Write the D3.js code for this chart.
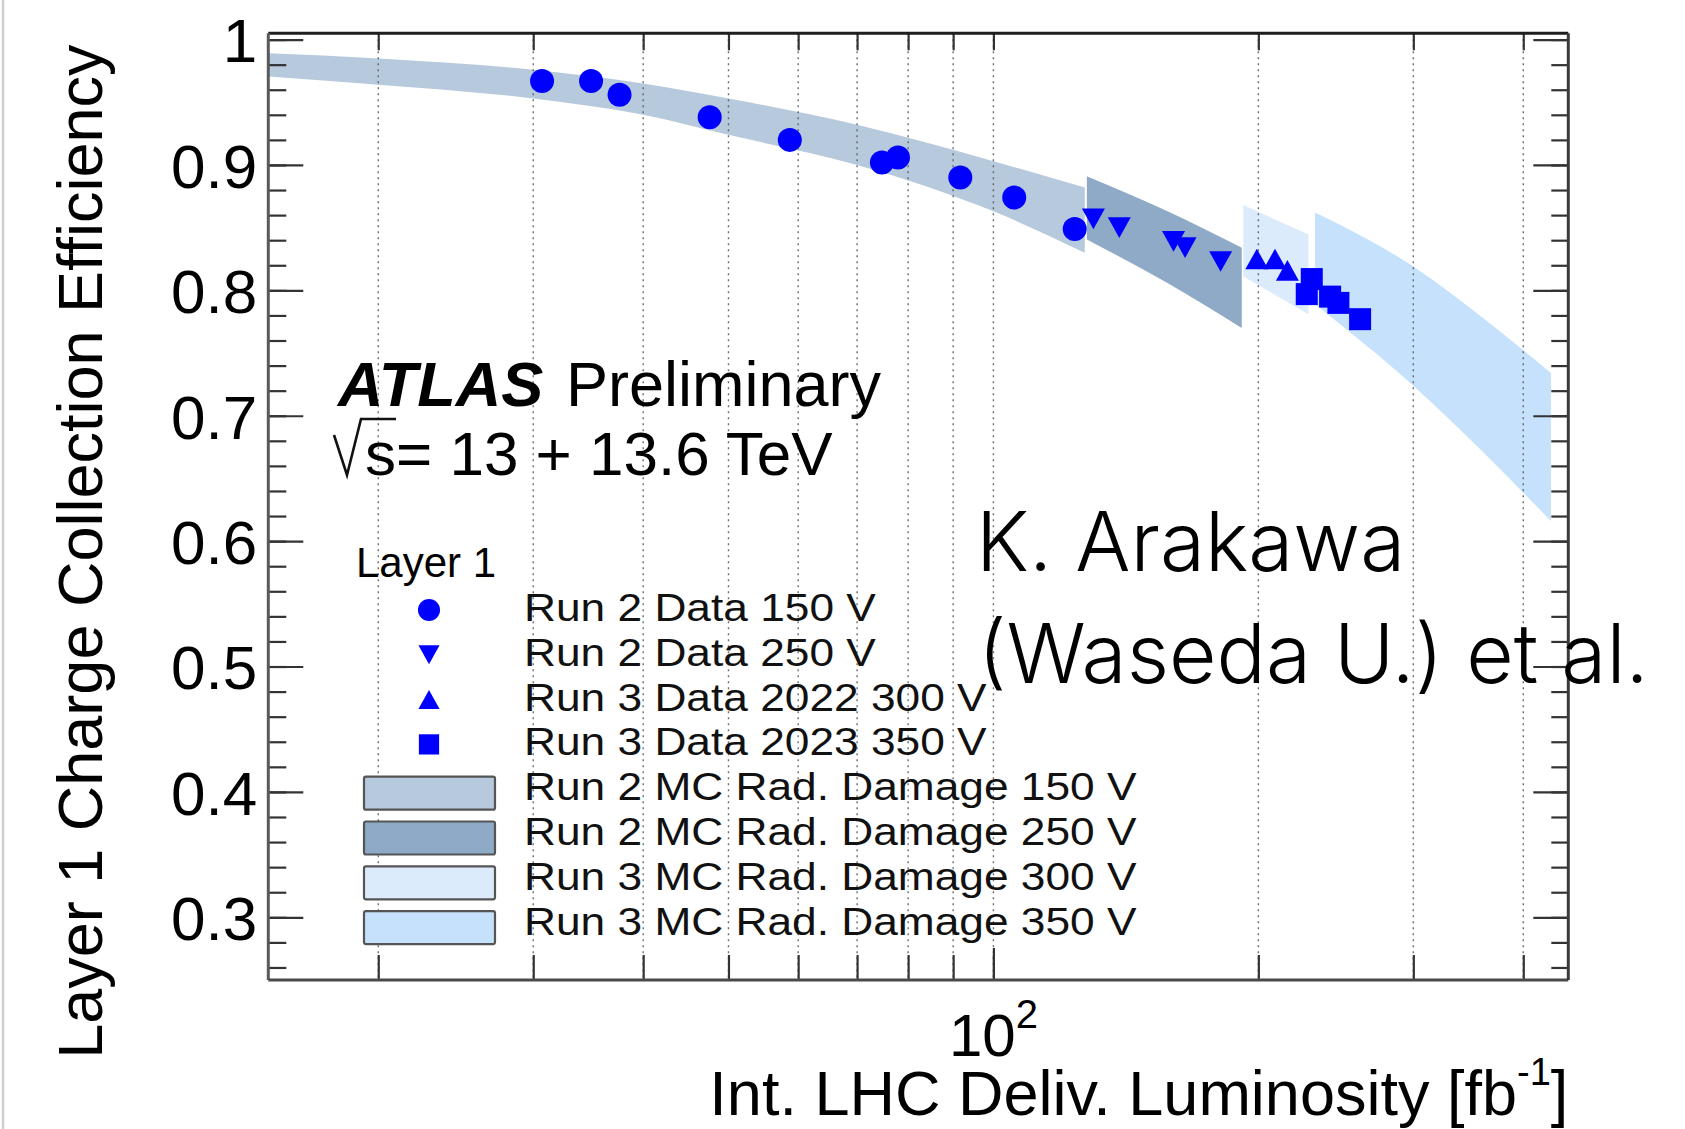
<!DOCTYPE html>
<html>
<head>
<meta charset="utf-8">
<script src="https://cdn.jsdelivr.net/npm/d3@7"></script>
<style>
  html, body { margin: 0; padding: 0; background: #fff; }
  svg { display: block; }
  text { font-family: "Liberation Sans", Arial, Helvetica, sans-serif; }
</style>
</head>
<body>
<svg id="chart" width="1685" height="1129"></svg>
<script>
// ---- Data: Layer 1 charge collection efficiency vs integrated luminosity ----
const xDomain = [15, 450];        // fb^-1 (log axis)
const yDomain = [0.25, 1.005];

const xTicks = [20, 30, 40, 50, 60, 70, 80, 90, 100, 200, 300, 400];
const xMajorTicks = [100];
const yMajor = [0.3, 0.4, 0.5, 0.6, 0.7, 0.8, 0.9, 1.0];
const yTickLabels = ["0.3", "0.4", "0.5", "0.6", "0.7", "0.8", "0.9", "1"];
const yMinor = d3.range(13, 51).map(i => i * 0.02);

// Measured points
const lumiRun2_150 = [30.7, 34.9, 37.6, 47.6, 58.7, 74.7, 77.9, 91.7, 105.6, 123.7];
const effRun2_150  = [0.967, 0.967, 0.956, 0.938, 0.920, 0.902, 0.906, 0.890, 0.874, 0.849];
const lumiRun2_250 = [129.9, 139.0, 160.2, 165.1, 181.2];
const effRun2_250  = [0.857, 0.850, 0.839, 0.834, 0.823];
const lumiRun3_2022 = [199.2, 208.9, 215.8];
const effRun3_2022  = [0.825, 0.825, 0.816];
const lumiRun3_2023 = [227.0, 230.0, 241.3, 246.6, 261.0];
const effRun3_2023  = [0.797, 0.809, 0.795, 0.790, 0.777];

// Simulation bands (lower / upper edge)
const mcRun2_150_lumi = [15, 20, 30, 40, 50, 70, 100, 127];
const mcRun2_150_hi   = [0.989, 0.985, 0.976, 0.965, 0.953, 0.932, 0.903, 0.882];
const mcRun2_150_lo   = [0.9705, 0.964, 0.953, 0.940, 0.924, 0.900, 0.863, 0.830];
const mcRun2_250_lumi = [127.7, 156.6, 191.5];
const mcRun2_250_hi   = [0.891, 0.864, 0.834];
const mcRun2_250_lo   = [0.8405, 0.807, 0.770];
const mcRun3_300_lumi = [192.3, 228.0];
const mcRun3_300_hi   = [0.868, 0.8445];
const mcRun3_300_lo   = [0.811, 0.781];
const mcRun3_350_lumi = [232, 300, 360, 430];
const mcRun3_350_hi   = [0.862, 0.819, 0.778, 0.734];
const mcRun3_350_lo   = [0.789, 0.724, 0.671, 0.616];

const legendTitle = "Layer 1";
const markerLabels = ["Run 2 Data 150 V", "Run 2 Data 250 V", "Run 3 Data 2022 300 V", "Run 3 Data 2023 350 V"];
const bandLabels = ["Run 2 MC Rad. Damage 150 V", "Run 2 MC Rad. Damage 250 V",
                    "Run 3 MC Rad. Damage 300 V", "Run 3 MC Rad. Damage 350 V"];

// ---- Layout ----
const W = 1685, H = 1129;
const X0 = 268.3, X1 = 1568.3, Y0 = 33.3, Y1 = 980;
const FONT = '"Liberation Sans", Arial, Helvetica, sans-serif';

const x = d3.scaleLog().domain(xDomain).range([X0, X1]);
const y = d3.scaleLinear().domain(yDomain).range([Y1, Y0]);

const svg = d3.select("#chart");

// thin page border on the left
svg.append("line").attr("x1", 3).attr("x2", 3).attr("y1", 0).attr("y2", H)
  .attr("stroke", "#cfcfcf").attr("stroke-width", 2.5);

// ---- MC bands ----
const bandColors = ["#b7c9dc", "#8eaac6", "#dcebfc", "#c6e1fb"];
const bands = [
  { lumi: mcRun2_150_lumi, hi: mcRun2_150_hi, lo: mcRun2_150_lo },
  { lumi: mcRun2_250_lumi, hi: mcRun2_250_hi, lo: mcRun2_250_lo },
  { lumi: mcRun3_300_lumi, hi: mcRun3_300_hi, lo: mcRun3_300_lo },
  { lumi: mcRun3_350_lumi, hi: mcRun3_350_hi, lo: mcRun3_350_lo }
];
const area = d3.area()
  .x(d => x(d.l)).y0(d => y(d.lo)).y1(d => y(d.hi))
  .curve(d3.curveMonotoneX);
bands.forEach((b, i) => {
  const pts = b.lumi.map((l, j) => ({ l, hi: b.hi[j], lo: b.lo[j] }));
  svg.append("path").attr("d", area(pts)).attr("fill", bandColors[i]);
});

// ---- vertical dotted grid ----
svg.append("g").selectAll("line").data(xTicks).join("line")
  .attr("x1", d => x(d)).attr("x2", d => x(d))
  .attr("y1", Y0).attr("y2", Y1)
  .attr("stroke", "#555").attr("stroke-width", 1.4)
  .attr("stroke-dasharray", "2,4").attr("opacity", 0.85);

// ---- axes ----
function styleAxis(g) {
  g.select(".domain").remove();
  g.attr("font-size", null).attr("font-family", null);
  g.selectAll(".tick line").attr("stroke", "#333").attr("stroke-width", 2.2);
}
const yAxisL = svg.append("g").attr("transform", `translate(${X0},0)`)
  .call(d3.axisLeft(y).tickValues(yMajor).tickSize(-35).tickPadding(11)
        .tickFormat((d, i) => yTickLabels[i]))
  .call(styleAxis);
yAxisL.selectAll("text").attr("dy", "0.36em")
  .style("font-family", FONT).style("font-size", "62px").attr("fill", "#000");
svg.append("g").attr("transform", `translate(${X0},0)`)
  .call(d3.axisLeft(y).tickValues(yMinor).tickSize(-18).tickFormat(""))
  .call(styleAxis);
svg.append("g").attr("transform", `translate(${X1},0)`)
  .call(d3.axisRight(y).tickValues(yMajor).tickSize(-35).tickFormat(""))
  .call(styleAxis);
svg.append("g").attr("transform", `translate(${X1},0)`)
  .call(d3.axisRight(y).tickValues(yMinor).tickSize(-17).tickFormat(""))
  .call(styleAxis);
svg.append("g").attr("transform", `translate(0,${Y1})`)
  .call(d3.axisBottom(x).tickValues(xTicks).tickSize(-25).tickFormat(""))
  .call(styleAxis);
svg.append("g").attr("transform", `translate(0,${Y1})`)
  .call(d3.axisBottom(x).tickValues(xMajorTicks).tickSize(-32).tickFormat(""))
  .call(styleAxis);
svg.append("g").attr("transform", `translate(0,${Y0})`)
  .call(d3.axisTop(x).tickValues(xTicks).tickSize(-17).tickFormat(""))
  .call(styleAxis);

// frame
svg.append("line").attr("x1", X0).attr("x2", X1).attr("y1", Y0).attr("y2", Y0)
  .attr("stroke", "#1e1e1e").attr("stroke-width", 3);
svg.append("line").attr("x1", X0).attr("x2", X0).attr("y1", Y0).attr("y2", Y1)
  .attr("stroke", "#5a5a5a").attr("stroke-width", 3);
svg.append("line").attr("x1", X0).attr("x2", X1).attr("y1", Y1).attr("y2", Y1)
  .attr("stroke", "#4a4a4a").attr("stroke-width", 3);
svg.append("line").attr("x1", X1).attr("x2", X1).attr("y1", Y0).attr("y2", Y1)
  .attr("stroke", "#3a3a3a").attr("stroke-width", 3);

// x tick label 10^2
const lab = svg.append("text").attr("x", x(100)).attr("y", 1056)
  .attr("text-anchor", "middle").style("font-size", "60px").attr("fill", "#000");
lab.append("tspan").text("10");
lab.append("tspan").attr("dy", -28).style("font-size", "40px").text("2");

// axis titles
const xt = svg.append("text").attr("x", X1).attr("y", 1115)
  .attr("text-anchor", "end").style("font-size", "63px").attr("fill", "#000");
xt.append("tspan").text("Int. LHC Deliv. Luminosity [fb");
xt.append("tspan").attr("dy", -30).style("font-size", "38px").text("-1");
xt.append("tspan").attr("dy", 30).text("]");

svg.append("text").attr("transform", `translate(102,${(Y0 + Y1) / 2 + 45}) rotate(-90)`)
  .attr("text-anchor", "middle").style("font-size", "63px").attr("fill", "#000")
  .text("Layer 1 Charge Collection Efficiency");

// ---- markers ----
function markerPath(shape, s) {
  switch (shape) {
    case "circle": return d3.symbol(d3.symbolCircle, Math.PI * s * s)();
    case "square": return `M${-s},${-s}H${s}V${s}H${-s}Z`;
    case "tdown":  return `M${-s},${-s * 0.9}H${s}L0,${s * 0.9}Z`;
    case "tup":    return `M${-s},${s * 0.9}H${s}L0,${-s * 0.9}Z`;
  }
}
const BLUE = "#0000ff";
const series = [
  { lumi: lumiRun2_150, eff: effRun2_150, shape: "circle", size: 12 },
  { lumi: lumiRun2_250, eff: effRun2_250, shape: "tdown", size: 11.5 },
  { lumi: lumiRun3_2022, eff: effRun3_2022, shape: "tup", size: 11.5 },
  { lumi: lumiRun3_2023, eff: effRun3_2023, shape: "square", size: 11 }
];
series.forEach(s => {
  svg.append("g").selectAll("path").data(s.lumi.map((l, i) => [l, s.eff[i]])).join("path")
    .attr("transform", d => `translate(${x(d[0])},${y(d[1])})`)
    .attr("d", markerPath(s.shape, s.size)).attr("fill", BLUE);
});

// ---- labels ----
svg.append("text").attr("x", 338).attr("y", 406)
  .style("font-size", "63px").style("font-weight", "bold").style("font-style", "italic")
  .attr("fill", "#000").text("ATLAS");
svg.append("text").attr("x", 566).attr("y", 406)
  .style("font-size", "63px").attr("fill", "#000").text("Preliminary");

// sqrt(s) line
const sx = 334, sb = 475;
svg.append("path")
  .attr("d", `M${sx},${sb - 40} L${sx + 13},${sb} L${sx + 27},${sb - 56} L${sx + 62},${sb - 56}`)
  .attr("fill", "none").attr("stroke", "#111").attr("stroke-width", 2.6);
svg.append("text").attr("x", sx + 31).attr("y", sb)
  .style("font-size", "62px").attr("fill", "#000").text("s= 13 + 13.6 TeV");

// ---- legend ----
svg.append("text").attr("x", 356).attr("y", 577)
  .style("font-size", "42px").attr("fill", "#000").text(legendTitle);

const legX = 429, legTextX = 524, rowBase0 = 621, rowStep = 44.8;
const legendRows = markerLabels.map((t, i) => ({ t, kind: "marker", i }))
  .concat(bandLabels.map((t, i) => ({ t, kind: "band", i })));
legendRows.forEach((r, k) => {
  const base = rowBase0 + k * rowStep;
  if (r.kind === "marker") {
    const s = series[r.i];
    svg.append("path").attr("transform", `translate(${legX},${base - 11})`)
      .attr("d", markerPath(s.shape, s.size * 0.92)).attr("fill", BLUE);
  } else {
    svg.append("rect").attr("x", legX - 65).attr("y", base - 7 - 16.5)
      .attr("width", 131).attr("height", 33).attr("rx", 2)
      .attr("fill", bandColors[r.i]).attr("stroke", "#555").attr("stroke-width", 2.2);
  }
  svg.append("text").attr("transform", `translate(${legTextX},${base}) scale(1.15,1)`)
    .style("font-size", "38.5px").attr("fill", "#111").text(r.t);
});

// ---- author note ----
const note = svg.append("text").style("font-family", 'Inter, "Noto Sans", sans-serif')
  .style("font-weight", "350").style("font-size", "82px").attr("fill", "#000");
note.append("tspan").attr("x", 976).attr("y", 571).text("K. Arakawa");
note.append("tspan").attr("x", 978).attr("y", 683).text("(Waseda U.) et al.");
</script>
</body>
</html>
